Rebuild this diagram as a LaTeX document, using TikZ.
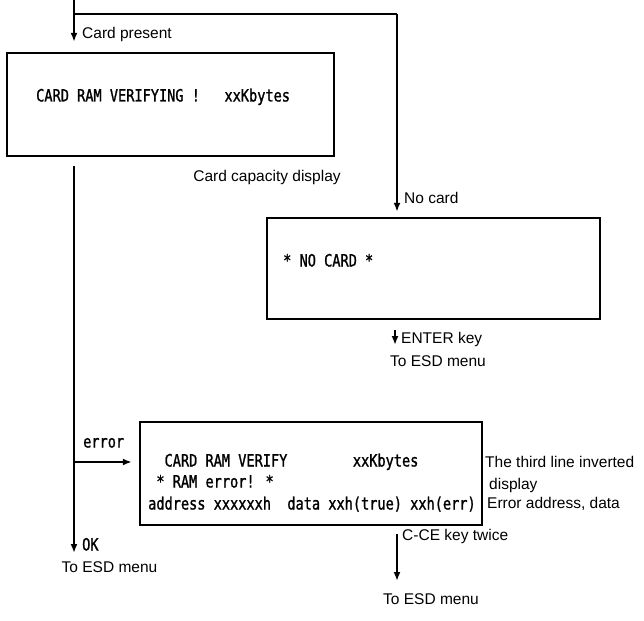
\documentclass[tikz,border=0pt]{standalone}
\usepackage{fontspec}
\setmainfont{Liberation Sans}
\newfontfamily\lcdfont[FakeStretch=0.8,FakeBold=1.2]{DejaVu Sans Mono}
\usetikzlibrary{arrows.meta,positioning,calc}
\tikzset{
  wire/.style={line width=2pt, draw=black},
  flow/.style={wire, -{Latex[length=9pt,width=7pt]}},
  screen/.style={draw, line width=2.4pt, minimum height=103pt, inner sep=0pt},
  lcd/.style={font=\lcdfont\fontsize{17}{20}\selectfont, inner sep=0pt, text height=9pt, text depth=0pt},
  note/.style={inner sep=0pt, text height=8pt, text depth=0pt},
}
\begin{document}
\begin{tikzpicture}[x=1pt,y=-1pt,font=\fontsize{15.5}{18}\selectfont]
    \useasboundingbox (0,0) rectangle (644,620);
    % screens
    \node[screen,minimum width=327pt] (verify) at (170.5,104.5) {};
    \node[lcd,anchor=west] (verifytxt) at (36,97) {CARD RAM VERIFYING !~~~xxKbytes};
    \node[screen,minimum width=333pt,minimum height=101pt] (nocard) at (433.5,268.5) {};
    \node[lcd,anchor=west] (nocardtxt) at (283,262) {* NO CARD *};
    \node[screen,minimum width=342pt] (ramerr) at (311,473.5) {};
    \node[lcd,anchor=west] (errline1) at (148,462) {~~CARD RAM VERIFY~~~~~~~~xxKbytes};
    \node[lcd,anchor=west] (errline2) at (148,483) {~* RAM error! *};
    \node[lcd,anchor=west] (errline3) at (148,505) {address xxxxxxh~~data xxh(true) xxh(err)};
    % branch points
    \coordinate (entry) at (74,0);
    \coordinate (split) at (74,14);
    \coordinate (turn) at (397,14);
    \coordinate (errfork) at (74,462);
    \coordinate (okend) at (74,553);
    \coordinate (enterkey) at (395,345);
    \coordinate (cceend) at (397,581);
    % connectors
    \draw[wire] (entry) -- (split) -- (turn);
    \draw[flow,shorten >=10pt] (split) -- (split |- verify.north);
    \draw[flow,shorten >=5pt] (turn) -- (turn |- nocard.north);
    \draw[flow,shorten <=9pt] (verify.south -| okend) -- (okend);
    \draw[flow,shorten >=7pt] (errfork) -- (ramerr.west |- errfork);
    \draw[flow,shorten <=10pt] (nocard.south -| enterkey) -- (enterkey);
    \draw[flow,shorten <=8pt] (ramerr.south -| cceend) -- (cceend);
    % labels
    \node[note,anchor=west] (cardpresent) at (82,35) {Card present};
    \node[note] (capacity) at (267,178) {Card capacity display};
    \node[note,anchor=west] (nocardlbl) at (404,200) {No card};
    \node[note,anchor=west] (enterlbl) at (401,339) {ENTER key};
    \node[note] (entermenu) at (438,362) {To ESD menu};
    \node[lcd,anchor=west] (errlbl) at (83,443) {error};
    \node[lcd,anchor=west] (oklbl) at (82,546) {OK};
    \node[note] (okmenu) at (109.5,568) {To ESD menu};
    \node[note,anchor=west] (ccelbl) at (402,536) {C-CE key twice};
    \node[note] (ccemenu) at (431,600) {To ESD menu};
    \node[note,anchor=west] (inverted) at (485,463) {The third line inverted};
    \node[note,anchor=west] (displaylbl) at (489,485) {display};
    \node[note,anchor=west] (erraddr) at (487,504) {Error address, data};
\end{tikzpicture}
\end{document}
